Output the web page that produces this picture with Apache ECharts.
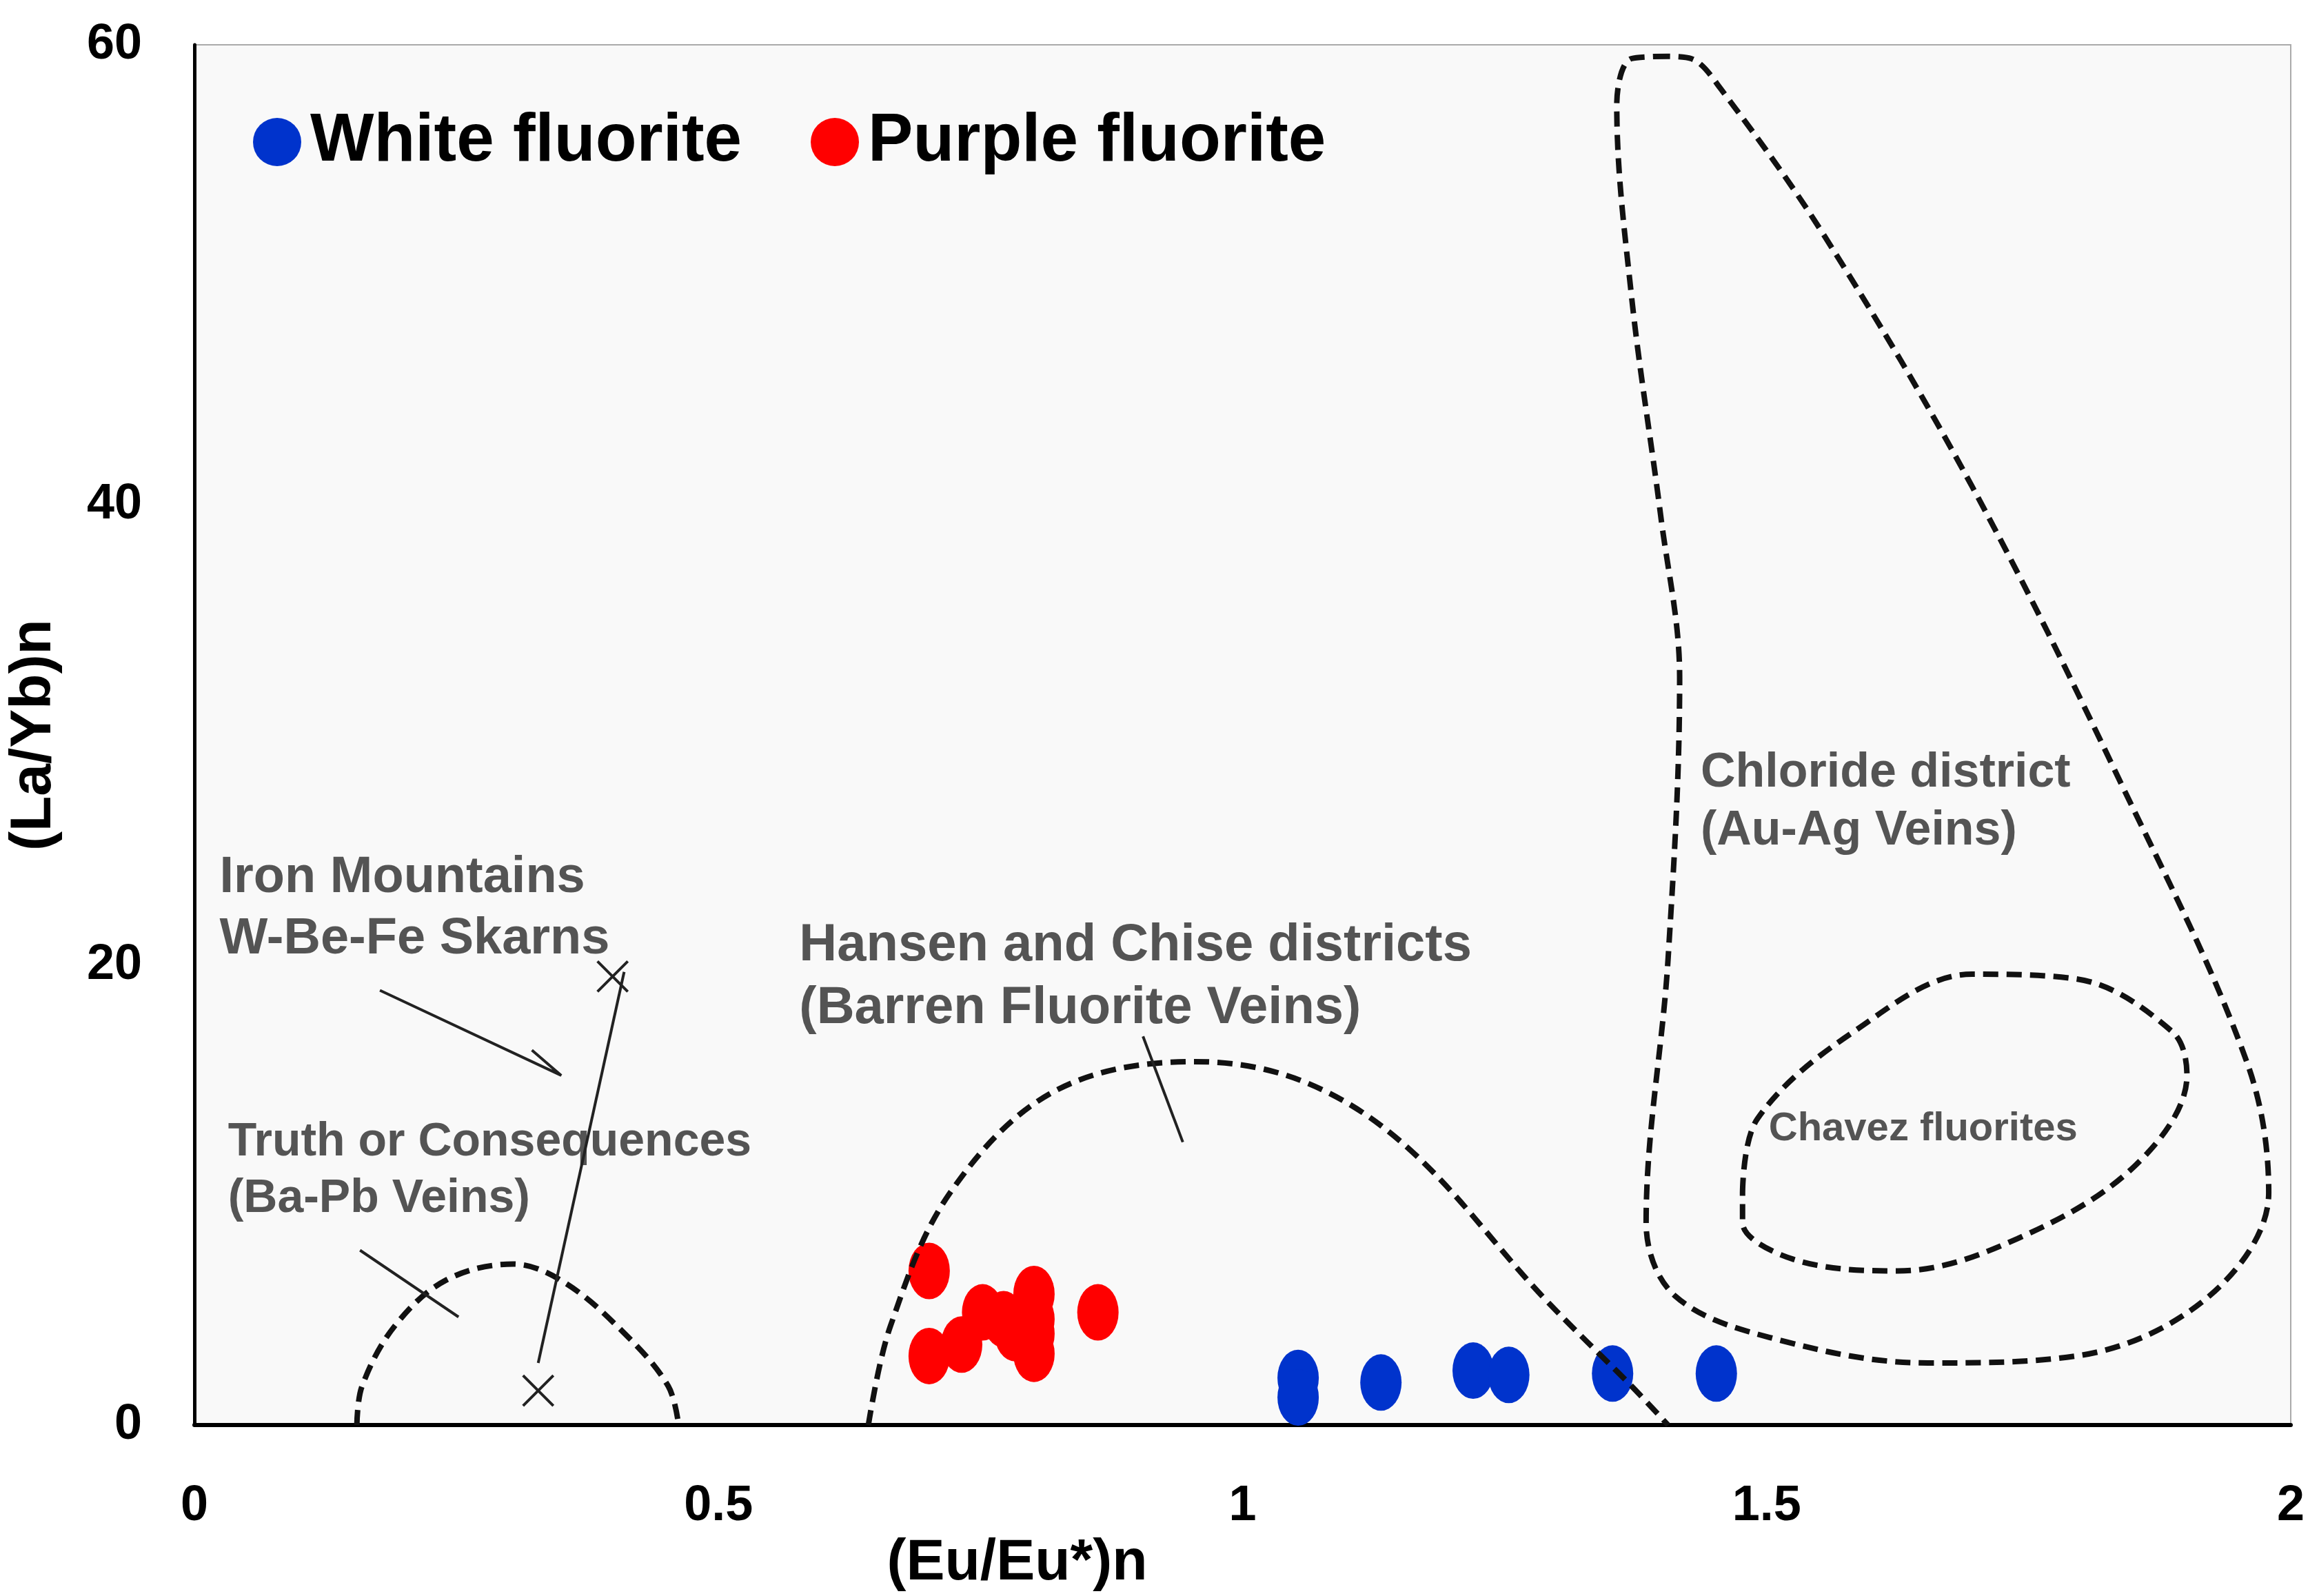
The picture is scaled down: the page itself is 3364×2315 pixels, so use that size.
<!DOCTYPE html>
<html>
<head>
<meta charset="utf-8">
<script src="https://cdn.jsdelivr.net/npm/echarts@6/dist/echarts.min.js"></script>
<style>html,body{margin:0;padding:0;background:#fff}#chart{width:3364px;height:2315px}</style>
</head>
<body>
<div id="chart"></div>
<script>
// data
var whiteFluorite = [[1.053, 2.05], [1.053, 1.2], [1.132, 1.85], [1.22, 2.37], [1.254, 2.18], [1.353, 2.24], [1.452, 2.24]];
var purpleFluorite = [[0.701, 6.7], [0.701, 3.0], [0.732, 3.5], [0.752, 4.9], [0.772, 4.6], [0.783, 4.0],
    [0.801, 5.7], [0.801, 4.6], [0.801, 3.97], [0.801, 3.1], [0.862, 4.9]];

var truthField = [[0.155, 0], [0.16, 1.7], [0.191, 4.3], [0.24, 6.3], [0.304, 7.0], [0.353, 6.2], [0.41, 4.0], [0.452, 1.7], [0.462, 0]];
var hansenField = [[0.643, 0], [0.664, 4.3], [0.721, 10.1], [0.82, 14.5], [0.954, 15.8], [1.06, 14.9], [1.159, 12.0],
    [1.286, 5.6], [1.371, 1.7], [1.406, 0]];
var chlorideField = [[1.406, 59.5], [1.371, 59.4], [1.357, 57.4], [1.371, 49.1], [1.399, 39.5], [1.417, 32.5], [1.406, 20.3],
    [1.385, 8.8], [1.413, 5.6], [1.512, 3.7], [1.654, 2.7], [1.795, 3.0], [1.922, 5.6], [1.979, 10.1], [1.958, 15.8],
    [1.837, 28.0], [1.696, 40.8], [1.555, 51.7], [1.456, 58.1], [1.428, 59.4], [1.406, 59.5]];
var chavezField = [[1.477, 10.1], [1.491, 13.3], [1.583, 17.1], [1.696, 19.6], [1.795, 19.4], [1.887, 17.1], [1.901, 15.2],
    [1.852, 11.3], [1.739, 8.1], [1.625, 6.7], [1.526, 7.2], [1.477, 8.8], [1.477, 10.1]];

var leaderLines = [
    [[0.177, 18.9], [0.35, 15.2], [0.322, 16.3]],
    [[0.328, 2.7], [0.41, 19.7]],
    [[0.158, 7.6], [0.252, 4.7]],
    [[0.905, 16.9], [0.943, 12.3]]
];
var crossMarks = [[0.328, 1.5], [0.399, 19.5]];

var fieldLabels = [
    { value: [0.024, 25.1], text: 'Iron Mountains\nW-Be-Fe Skarns', size: 74 },
    { value: [0.032, 13.5], text: 'Truth or Consequences\n(Ba-Pb Veins)', size: 68 },
    { value: [0.577, 22.2], text: 'Hansen and Chise districts\n(Barren Fluorite Veins)', size: 76 },
    { value: [1.437, 29.6], text: 'Chloride district\n(Au-Ag Veins)', size: 70 },
    { value: [1.502, 13.9], text: 'Chavez fluorites', size: 58 }
];
var xTicks = [0, 0.5, 1, 1.5, 2];

var chart = echarts.init(document.getElementById('chart'));
var font = 'Liberation Sans, Arial, sans-serif';

var series = [];
[truthField, hansenField, chlorideField, chavezField].forEach(function (f) {
    series.push({
        type: 'line', data: f, smooth: 0.35, symbol: 'none', silent: true,
        lineStyle: { color: '#111', width: 8, type: [22, 12] }
    });
});
leaderLines.forEach(function (l) {
    series.push({
        type: 'line', data: l, symbol: 'none', silent: true,
        lineStyle: { color: '#222', width: 4 }
    });
});
series.push({
    type: 'scatter', data: crossMarks, symbol: 'path://M0,0L10,10M10,0L0,10', symbolSize: 44,
    itemStyle: { color: 'none', borderColor: '#222', borderWidth: 4, opacity: 1 }
});
series.push({
    type: 'scatter', symbolSize: 0,
    data: fieldLabels.map(function (d) {
        return {
            value: d.value,
            label: { show: true, formatter: d.text, fontSize: d.size, lineHeight: d.size * 1.2 }
        };
    }),
    label: {
        position: [0, 0], align: 'left', verticalAlign: 'top',
        color: '#2a2a2a', fontWeight: 'bold', fontFamily: font
    }
});
series.push({
    name: 'White fluorite', type: 'scatter', data: whiteFluorite, symbolSize: [60, 82],
    itemStyle: { color: '#0033cc', opacity: 1 }
});
series.push({
    name: 'Purple fluorite', type: 'scatter', data: purpleFluorite, symbolSize: [60, 82],
    itemStyle: { color: '#ff0000', opacity: 1 }
});

var option = {
    backgroundColor: '#ffffff',
    animation: false,
    grid: { left: 280, right: 41, top: 65, bottom: 235, show: true, backgroundColor: '#f9f9f9', borderColor: '#aaa', borderWidth: 2 },
    legend: {
        data: ['White fluorite', 'Purple fluorite'],
        left: 362, top: 152, icon: 'circle', itemWidth: 70, itemHeight: 70, itemGap: 100,
        textStyle: { fontSize: 98, fontWeight: 'bold', color: '#000', fontFamily: font, padding: [0, 0, 0, 8] }
    },
    xAxis: {
        type: 'value', min: 0, max: 2, interval: 0.5,
        name: '(Eu/Eu*)n', nameLocation: 'middle', nameGap: 140,
        nameTextStyle: { fontSize: 84, fontWeight: 'bold', color: '#000', fontFamily: font, padding: [0, 654, 0, 0] },
        axisLine: { lineStyle: { color: '#000', width: 6 } },
        axisTick: { show: false }, splitLine: { show: false },
        axisLabel: {
            margin: 82, fontSize: 72, fontWeight: 'bold', color: '#000', fontFamily: font,
            formatter: function (v) { return xTicks.indexOf(v) >= 0 ? String(v) : ''; }
        }
    },
    yAxis: {
        type: 'value', min: 0, max: 60, interval: 20,
        name: '(La/Yb)n', nameLocation: 'middle', nameGap: 190,
        nameTextStyle: { fontSize: 84, fontWeight: 'bold', color: '#000', fontFamily: font },
        axisLine: { show: true, lineStyle: { color: '#000', width: 5 } },
        axisTick: { show: false }, splitLine: { show: false },
        axisLabel: { margin: 76, fontSize: 72, fontWeight: 'bold', color: '#000', fontFamily: font }
    },
    series: series
};
chart.setOption(option);
window.addEventListener('resize', function () { chart.resize(); });
</script>
</body>
</html>
